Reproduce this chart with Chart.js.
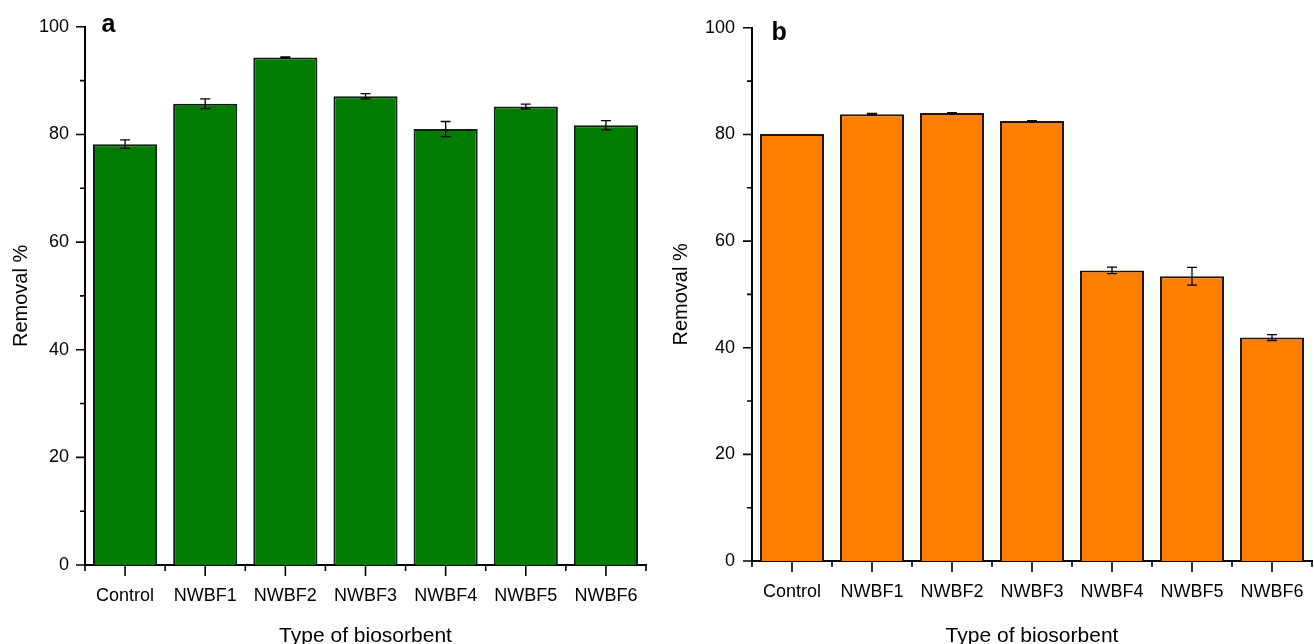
<!DOCTYPE html>
<html>
<head>
<meta charset="utf-8">
<script src="https://cdn.jsdelivr.net/npm/chart.js@4.4.1/dist/chart.umd.min.js"></script>
<style>
  html, body { margin: 0; padding: 0; background: #fff; overflow: hidden; width: 1314px; height: 644px; }
  #chartA { position: absolute; left: 0; top: 0; }
  #chartB { position: absolute; left: 660px; top: 0; }
</style>
</head>
<body>
<canvas id="chartA" width="660" height="650"></canvas>
<canvas id="chartB" width="654" height="650"></canvas>
<script>
const categories = ['Control', 'NWBF1', 'NWBF2', 'NWBF3', 'NWBF4', 'NWBF5', 'NWBF6'];
// panel a
const removalA = [78.2, 85.7, 94.3, 87.1, 81.0, 85.2, 81.7];
const errorA = [0.8, 0.9, 0.1, 0.5, 1.4, 0.45, 0.85];
// panel b
const removalB = [80.1, 83.8, 84.0, 82.5, 54.5, 53.4, 41.9];
const errorB = [0, 0.15, 0.1, 0.1, 0.6, 1.65, 0.55];
const yTicks = [0, 20, 40, 60, 80, 100];
const xTitle = 'Type of biosorbent';
const yTitle = 'Removal %';

const FONT = '"Liberation Sans", Arial, sans-serif';

// error bars, outward axis ticks (major + minor) and the panel letter
const extras = {
  id: 'extras',
  afterDatasetsDraw(chart) {
    const {ctx, scales: {y}} = chart;
    const ds = chart.data.datasets[0];
    const meta = chart.getDatasetMeta(0);
    ctx.save();
    ctx.strokeStyle = '#000';
    ctx.lineWidth = 1.3;
    ctx.beginPath();
    meta.data.forEach((bar, i) => {
      const e = ds.errors[i];
      if (!e) return;
      const t = y.getPixelForValue(ds.data[i] + e);
      const b = y.getPixelForValue(ds.data[i] - e);
      ctx.moveTo(bar.x, t); ctx.lineTo(bar.x, b);
      ctx.moveTo(bar.x - 5, t); ctx.lineTo(bar.x + 5, t);
      ctx.moveTo(bar.x - 5, b); ctx.lineTo(bar.x + 5, b);
    });
    ctx.stroke();
    ctx.restore();
  },
  afterDraw(chart, args, opts) {
    const {ctx, scales: {x, y}, chartArea: a} = chart;
    ctx.save();
    ctx.strokeStyle = '#000';
    ctx.lineWidth = 1.6;
    ctx.beginPath();
    for (let v = 0; v <= 100; v += 10) {
      const py = y.getPixelForValue(v);
      const len = yTicks.includes(v) ? 9 : 5;
      ctx.moveTo(a.left - len, py); ctx.lineTo(a.left, py);
    }
    const n = chart.data.labels.length;
    for (let i = 0; i < n; i++) {
      const px = x.getPixelForValue(i);
      ctx.moveTo(px, a.bottom); ctx.lineTo(px, a.bottom + 11);
    }
    for (let i = 0; i <= n; i++) {
      const px = x.getPixelForValue(i - 0.5);
      ctx.moveTo(px, a.bottom); ctx.lineTo(px, a.bottom + 6);
    }
    ctx.stroke();
    ctx.fillStyle = '#000';
    ctx.font = 'bold 25px ' + FONT;
    ctx.textBaseline = 'alphabetic';
    ctx.fillText(opts.letter, opts.lx, opts.ly);
    ctx.restore();
  }
};

function makeChart(id, values, errors, fill, edge, box) {
  return new Chart(document.getElementById(id), {
    type: 'bar',
    data: {
      labels: categories,
      datasets: [{
        data: values,
        errors: errors,
        backgroundColor: fill,
        borderColor: edge,
        borderWidth: 2,
        borderSkipped: 'bottom',
        barPercentage: 0.8,
        categoryPercentage: 1
      }]
    },
    options: {
      responsive: false,
      animation: false,
      layout: { padding: { left: 0, right: box.right, top: box.top, bottom: 0 } },
      plugins: {
        legend: { display: false },
        tooltip: { enabled: false },
        extras: { letter: box.letter, lx: box.lx, ly: box.ly }
      },
      scales: {
        x: {
          afterFit: s => { s.height = box.xh; s.paddingLeft = 0; s.paddingRight = 0; },
          grid: { display: false, drawTicks: false },
          border: { display: true, color: '#000', width: 2 },
          ticks: { color: '#000', padding: 20, font: { family: FONT, size: 18 } },
          title: {
            display: true, text: xTitle, color: '#000',
            font: { family: FONT, size: 21 }, padding: { top: 0, bottom: 1 }
          }
        },
        y: {
          min: 0,
          max: 100,
          afterFit: s => { s.width = box.yw; },
          afterBuildTicks: s => { s.ticks = yTicks.map(v => ({ value: v })); },
          grid: { display: false, drawTicks: false },
          border: { display: true, color: '#000', width: 2 },
          ticks: { color: '#000', padding: box.tp, font: { family: FONT, size: 18 } },
          title: {
            display: true, text: yTitle, color: '#000',
            font: { family: FONT, size: 20 }, padding: { top: 9, bottom: 0 }
          }
        }
      }
    },
    plugins: [extras]
  });
}

makeChart('chartA', removalA, errorA, '#007c00', '#0a1f0a',
  { right: 14, top: 21.5, xh: 85, yw: 85, tp: 16, letter: 'a', lx: 101.5, ly: 32.3 });
makeChart('chartB', removalB, errorB, '#ff8000', '#241404',
  { right: 2, top: 18.3, xh: 89, yw: 92, tp: 17, letter: 'b', lx: 111.5, ly: 40 });
</script>
</body>
</html>
